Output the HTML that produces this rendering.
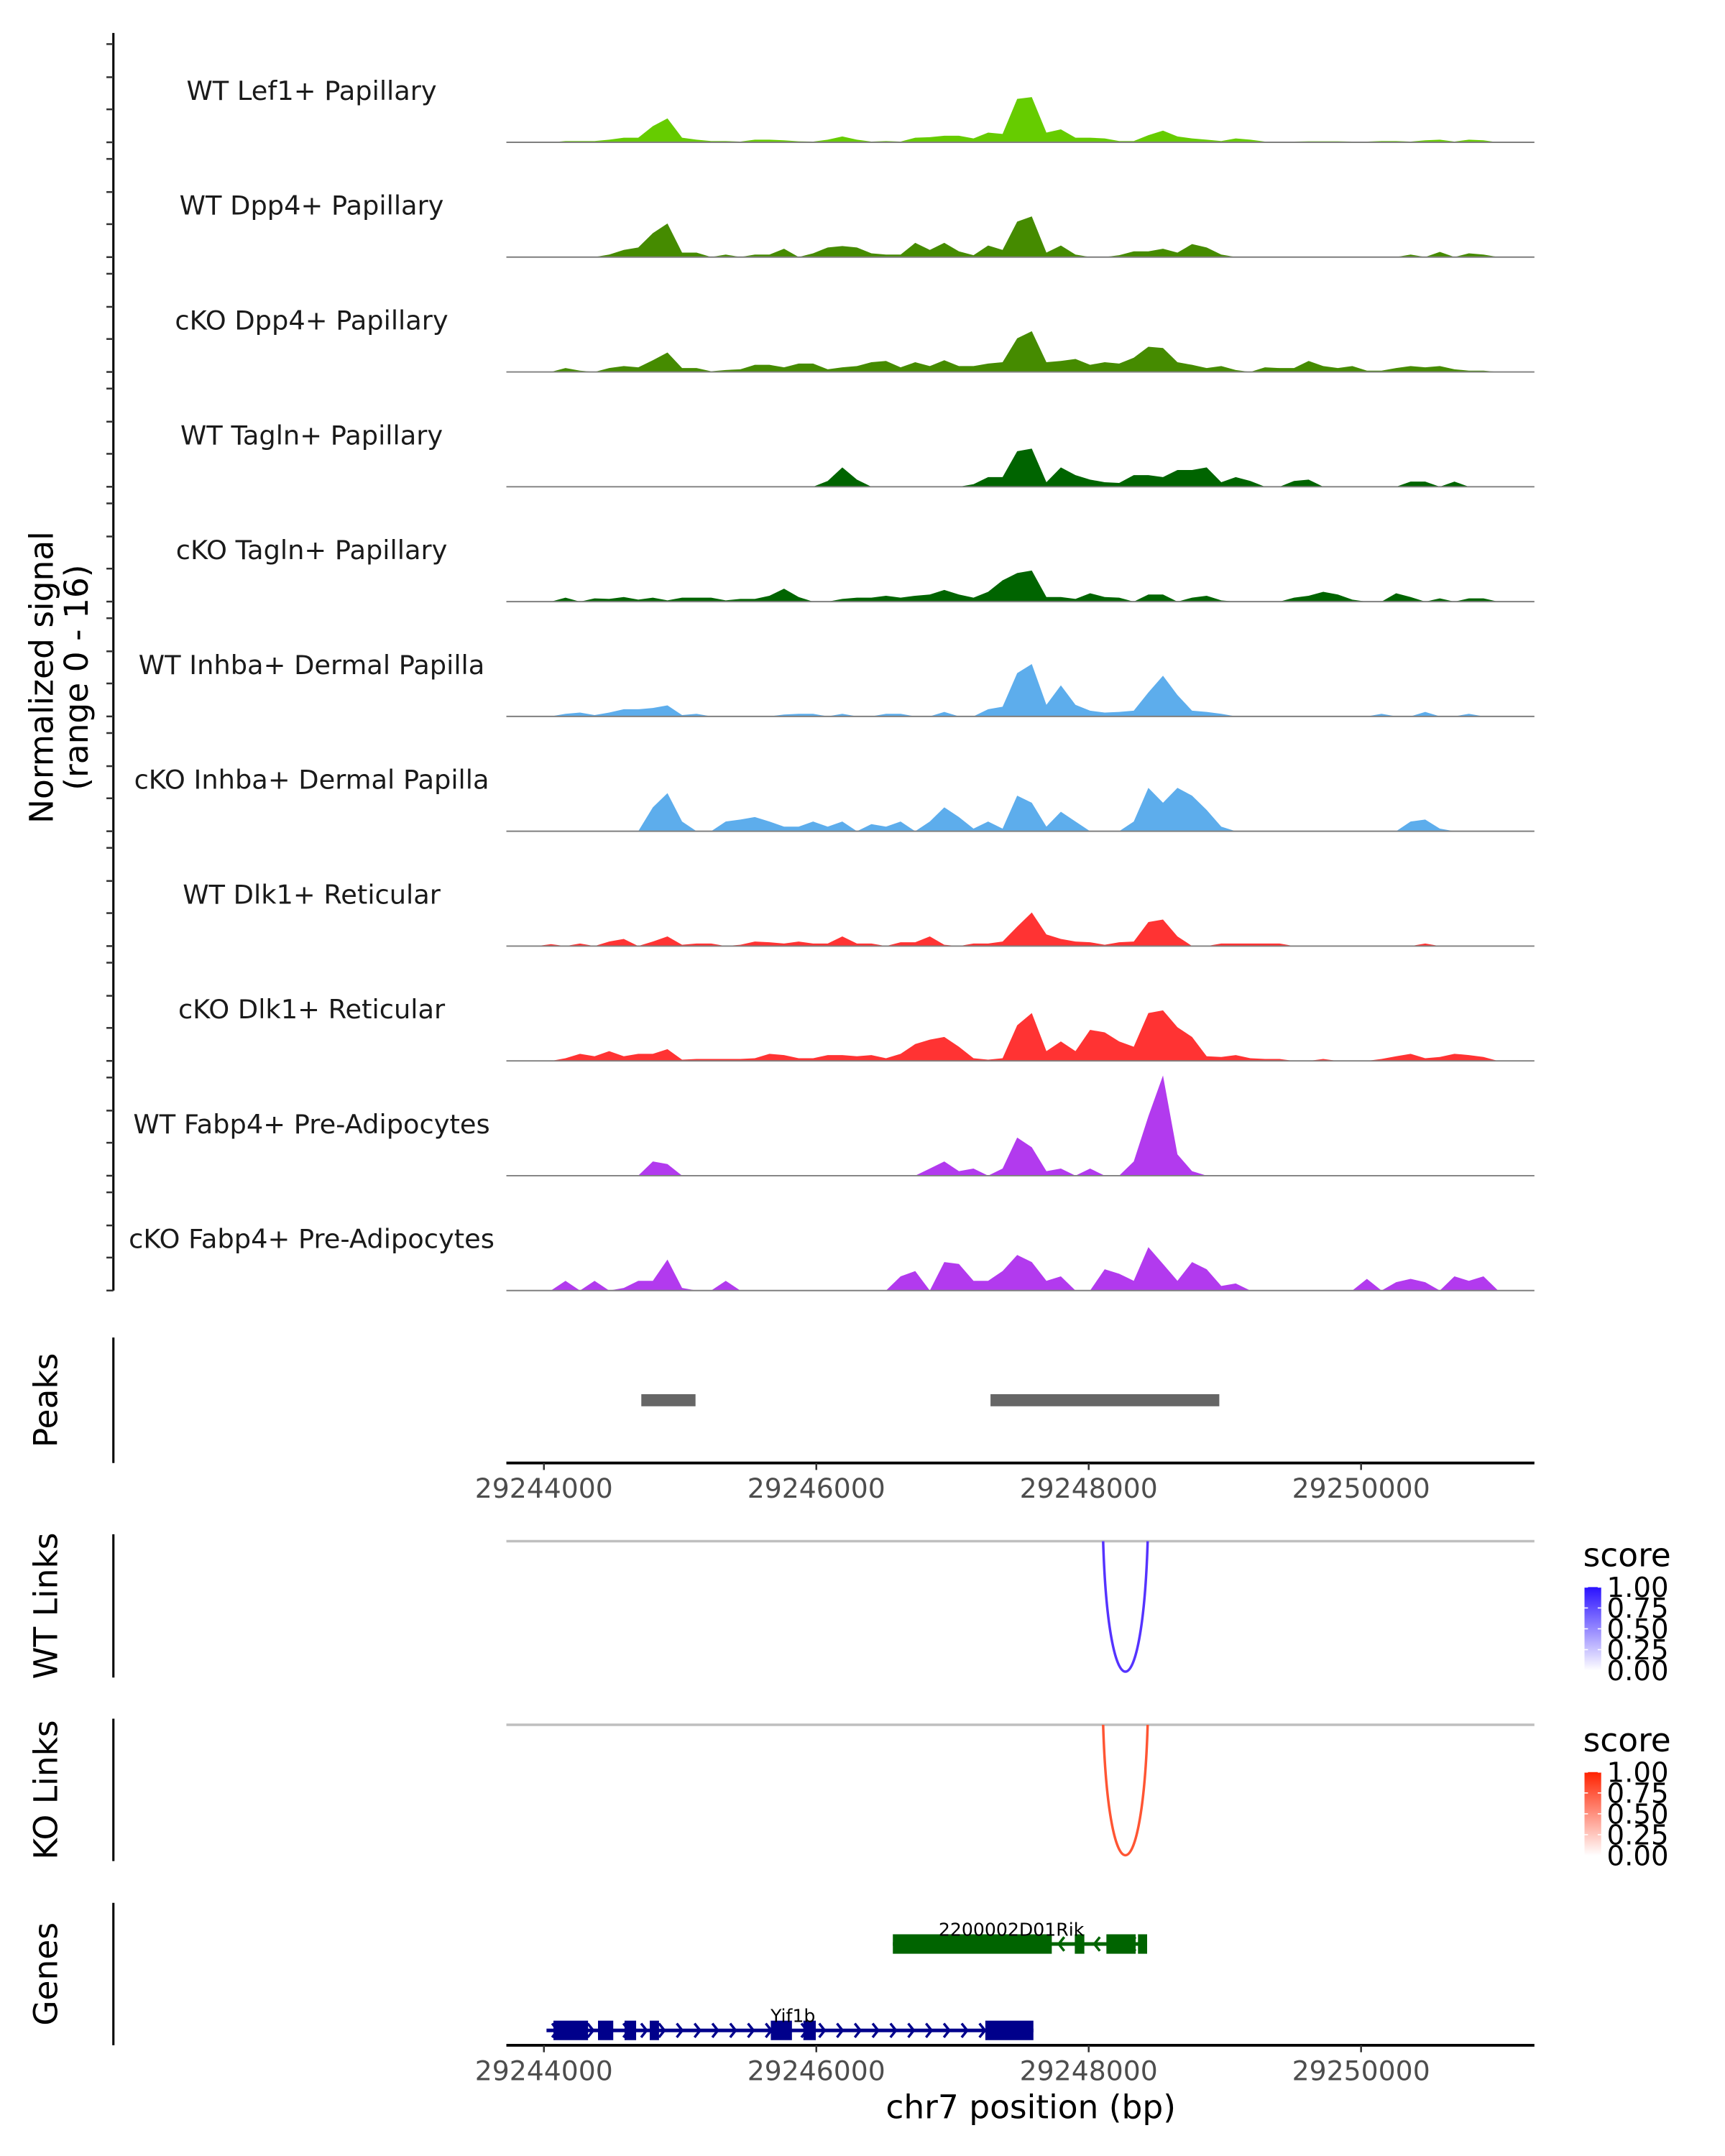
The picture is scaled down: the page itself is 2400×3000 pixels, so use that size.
<!DOCTYPE html>
<html><head><meta charset="utf-8"><style>
html,body{margin:0;padding:0;background:#fff;}
svg{display:block;font-family:"DejaVu Sans","Liberation Sans",sans-serif;}
</style></head><body>
<svg id="chart" xmlns="http://www.w3.org/2000/svg" width="2400" height="3000" viewBox="0 0 1240 1550">
<rect x="0" y="0" width="1240" height="1550" fill="#fff"/>
<g id="tracks"></g>
<g id="lower"></g>
</svg>
<script>
// ---- data ----
const regionStart = 29243837; // center of first bin (bp)
const binWidth = 107;         // bp per bin
const trackNames = ["WT Lef1+ Papillary","WT Dpp4+ Papillary","cKO Dpp4+ Papillary","WT Tagln+ Papillary","cKO Tagln+ Papillary","WT Inhba+ Dermal Papilla","cKO Inhba+ Dermal Papilla","WT Dlk1+ Reticular","cKO Dlk1+ Reticular","WT Fabp4+ Pre-Adipocytes","cKO Fabp4+ Pre-Adipocytes"];
const trackColors = ["#66cc00","#458b00","#458b00","#006400","#006400","#5dadec","#5dadec","#ff3333","#ff3333","#b23aee","#b23aee"];
const sigLef1WT = [0,0,0,0.2,0.2,0.2,0.4,0.7,0.7,2.5,3.7,0.7,0.4,0.2,0.2,0.1,0.4,0.4,0.3,0.15,0.1,0.4,0.9,0.4,0.1,0.2,0.1,0.7,0.8,1.0,1.0,0.6,1.5,1.3,6.7,7.0,1.5,2.0,0.7,0.7,0.6,0.2,0.2,1.1,1.8,0.9,0.6,0.4,0.2,0.6,0.4,0.1,0.1,0.1,0.15,0.15,0.15,0.1,0.1,0.2,0.2,0.1,0.3,0.4,0.1,0.4,0.3,0,0,0];
const sigDpp4WT = [0,0,0,0,0,0,0.4,1.1,1.5,3.7,5.2,0.7,0.7,0,0.4,0,0.4,0.4,1.3,0,0.6,1.5,1.7,1.5,0.6,0.4,0.4,2.2,1.1,2.2,0.9,0.3,1.8,1.1,5.5,6.3,0.7,1.8,0.4,0,0,0.3,0.9,0.9,1.3,0.7,2.0,1.5,0.4,0,0,0,0,0,0,0,0,0,0,0,0,0.4,0,0.8,0,0.6,0.4,0,0,0];
const sigDpp4KO = [0,0,0,0.6,0.2,0,0.6,0.9,0.7,1.8,3.0,0.6,0.6,0.1,0.3,0.4,1.1,1.1,0.7,1.3,1.3,0.4,0.7,0.9,1.5,1.7,0.7,1.5,0.9,1.8,0.9,0.9,1.3,1.5,5.2,6.3,1.5,1.7,2.0,1.1,1.5,1.3,2.2,3.9,3.7,1.5,1.1,0.6,0.9,0.3,0,0.7,0.6,0.6,1.7,0.9,0.6,0.9,0.2,0.2,0.6,0.9,0.7,0.9,0.4,0.2,0.2,0,0,0];
const sigTaglnWT = [0,0,0,0,0,0,0,0,0,0,0,0,0,0,0,0,0,0,0,0,0,0.9,3.0,1.1,0,0,0,0,0,0,0,0.4,1.5,1.5,5.5,5.9,0.7,3.0,1.8,1.1,0.7,0.6,1.8,1.8,1.5,2.6,2.6,3.0,0.7,1.5,0.9,0,0,0.9,1.1,0,0,0,0,0,0,0.8,0.8,0,0.8,0,0,0,0,0];
const sigTaglnKO = [0,0,0,0.6,0,0.5,0.4,0.7,0.3,0.6,0.2,0.6,0.6,0.6,0.2,0.4,0.4,0.9,2.0,0.7,0,0,0.4,0.6,0.6,0.9,0.6,0.9,1.1,1.8,1.1,0.6,1.5,3.3,4.4,4.8,0.7,0.7,0.4,1.3,0.7,0.6,0,1.1,1.1,0,0.6,0.9,0.2,0,0,0,0,0.6,0.9,1.5,1.1,0.3,0,0,1.3,0.7,0,0.5,0,0.5,0.5,0,0,0];
const sigInhbaWT = [0,0,0,0.4,0.6,0.2,0.6,1.1,1.1,1.3,1.7,0.2,0.4,0,0,0,0,0,0.3,0.4,0.4,0,0.4,0,0,0.4,0.4,0,0,0.7,0,0,1.1,1.5,6.7,8.1,1.8,4.8,1.8,0.9,0.6,0.7,0.9,3.7,6.3,3.3,0.9,0.7,0.4,0,0,0,0,0,0,0,0,0,0,0.4,0,0,0.7,0,0,0.4,0,0,0,0];
const sigInhbaKO = [0,0,0,0,0,0,0,0,0,3.7,5.9,1.5,0,0,1.5,1.8,2.2,1.5,0.7,0.7,1.5,0.7,1.5,0,1.1,0.7,1.5,0,1.5,3.7,2.2,0.4,1.5,0.4,5.5,4.4,0.7,3.0,1.5,0,0,0,1.5,6.7,4.4,6.7,5.5,3.3,0.7,0,0,0,0,0,0,0,0,0,0,0,0,1.5,1.8,0.4,0,0,0,0,0,0];
const sigDlk1WT = [0,0,0.3,0,0.4,0,0.7,1.1,0,0.7,1.5,0.2,0.4,0.4,0,0.2,0.7,0.6,0.4,0.7,0.4,0.4,1.5,0.4,0.4,0,0.6,0.6,1.5,0.2,0,0.4,0.4,0.7,3.0,5.2,1.8,1.1,0.7,0.6,0.2,0.6,0.7,3.7,4.1,1.5,0,0,0.4,0.4,0.4,0.4,0.4,0,0,0,0,0,0,0,0,0,0.4,0,0,0,0,0,0,0];
const sigDlk1KO = [0,0,0,0.4,1.1,0.7,1.5,0.7,1.1,1.1,1.8,0.2,0.3,0.3,0.3,0.3,0.4,1.1,0.9,0.4,0.4,0.9,0.9,0.7,0.9,0.4,1.1,2.6,3.3,3.7,2.2,0.4,0.2,0.4,5.5,7.4,1.5,3.0,1.5,4.8,4.4,3.0,2.2,7.4,7.8,5.2,3.7,0.7,0.6,0.9,0.4,0.3,0.3,0,0,0.3,0,0,0,0.3,0.7,1.1,0.4,0.6,1.1,0.9,0.6,0,0,0];
const sigFabp4WT = [0,0,0,0,0,0,0,0,0,2.2,1.8,0,0,0,0,0,0,0,0,0,0,0,0,0,0,0,0,0,1.1,2.2,0.7,1.1,0,1.1,5.9,4.4,0.7,1.1,0,1.1,0,0,2.2,9.2,15.5,3.3,0.7,0,0,0,0,0,0,0,0,0,0,0,0,0,0,0,0,0,0,0,0,0,0,0];
const sigFabp4KO = [0,0,0,1.5,0,1.5,0,0.4,1.5,1.5,4.8,0.4,0,0,1.5,0,0,0,0,0,0,0,0,0,0,0,2.2,3.0,0,4.4,4.1,1.5,1.5,3.0,5.5,4.4,1.5,2.2,0,0,3.3,2.6,1.5,6.7,4.1,1.5,4.4,3.3,0.7,1.1,0,0,0,0,0,0,0,0,1.8,0,1.3,1.8,1.3,0,2.2,1.5,2.2,0,0,0];
const signals = [sigLef1WT,sigDpp4WT,sigDpp4KO,sigTaglnWT,sigTaglnKO,sigInhbaWT,sigInhbaKO,sigDlk1WT,sigDlk1KO,sigFabp4WT,sigFabp4KO];
const peakStarts = [29244715, 29247279];
const peakEnds = [29245113, 29248959];
const tickValues = [29244000, 29246000, 29248000, 29250000];
const linkStart = [29248106];
const linkEnd = [29248433];
const legendTicks = ["1.00","0.75","0.50","0.25","0.00"];
const rikExonStarts = [29246562, 29247898, 29248130, 29248362];
const rikExonEnds = [29247729, 29247968, 29248345, 29248429];
const yifExonStarts = [29244070, 29244397, 29244592, 29244777, 29245666, 29245905, 29247241];
const yifExonEnds = [29244324, 29244509, 29244677, 29244845, 29245821, 29245996, 29247594];

// ---- scales ----
const NS = "http://www.w3.org/2000/svg";
const xs = bp => 391 + (bp - 29244000) * 0.0979;
const X0 = 364, X1 = 1103;
const pxPerUnit = 4.65;
const base0 = 102.3, trackStep = 82.55;
function el(tag, attrs, parent, txt){
  const e = document.createElementNS(NS, tag);
  for (const k in attrs) e.setAttribute(k, attrs[k]);
  if (txt !== undefined) e.textContent = txt;
  parent.appendChild(e);
  return e;
}
const tracks = document.getElementById('tracks');
const lower = document.getElementById('lower');

// left axis
const ax = el('line',{x1:81.5,y1:23.7,x2:81.5,y2:base0+trackStep*10,stroke:'#000','stroke-width':1.6},tracks);


const yt = el('text',{transform:'translate(41,487) rotate(-90)','text-anchor':'middle','font-size':23.5,fill:'#000'},tracks);


el('tspan',{x:0,dy:-3},yt,'Normalized signal');
el('tspan',{x:0,dy:25},yt,'(range 0 - 16)');

signals.forEach((sig, k) => {
  const b = base0 + trackStep * k;
  const g = el('g',{},tracks);
  
  
  [0, 23.7, 46.8, 70.6].forEach(off => {
    const t = el('line',{x1:76.5,x2:81.5,y1:b-off,y2:b-off,stroke:'#333','stroke-width':1.3},g);
    
    
  });
  const lab = el('text',{x:224,y:b-30.5,'text-anchor':'middle','font-size':19,fill:'#1a1a1a'},g,trackNames[k]);
  
  
  let d = '';
  for (let i = 0; i < sig.length; i++) {
    const x = xs(regionStart + binWidth * i);
    const y = b - sig[i] * pxPerUnit;
    d += (i === 0 ? 'M' + x.toFixed(1) + ',' + b + 'L' : 'L') + x.toFixed(1) + ',' + y.toFixed(1);
  }
  d += 'L' + xs(regionStart + binWidth * (sig.length - 1)).toFixed(1) + ',' + b + 'Z';
  const area = el('path',{d:d,fill:trackColors[k]},g);
  
  
  const bl = el('line',{x1:X0,x2:X1,y1:b,y2:b,stroke:'#7f7f7f','stroke-width':1},g);
  
  
});

// panel helper
function panelAxis(y1, y2, label, name){
  const l = el('line',{x1:81.5,x2:81.5,y1:y1,y2:y2,stroke:'#000','stroke-width':1.6},lower);
  
  
  const t = el('text',{transform:'translate(41,'+((y1+y2)/2)+') rotate(-90)','text-anchor':'middle','font-size':23.5,fill:'#000'},lower,label);
  
  
}
function xAxis(y){
  const g = el('g',{},lower);
  
  
  el('line',{x1:X0,x2:X1,y1:y,y2:y,stroke:'#000','stroke-width':2},g);
  tickValues.forEach(v => {
    const tk = el('line',{x1:xs(v),x2:xs(v),y1:y,y2:y+5,stroke:'#333','stroke-width':1.3},g);
    
    
    const tl = el('text',{x:xs(v),y:y+25,'text-anchor':'middle','font-size':19.5,fill:'#4d4d4d'},g,String(v));
    
    
  });
}

// Peaks
panelAxis(961.6, 1051.8, 'Peaks', 'peaks');
peakStarts.forEach((s, i) => {
  const r = el('rect',{x:xs(s),y:1002.3,width:xs(peakEnds[i])-xs(s),height:8.7,fill:'#666666'},lower);
  
  
});
xAxis(1051.8);

// Links
function linkPanel(y1, y2, lineY, bottom, color, name, label, gradId, topColor, legY){
  panelAxis(y1, y2, label, name);
  const gl = el('line',{x1:X0,x2:X1,y1:lineY,y2:lineY,stroke:'#bfbfbf','stroke-width':1.8},lower);
  
  
  linkStart.forEach((s, i) => {
    const a = xs(s), b2 = xs(linkEnd[i]);
    const depth = bottom - lineY;
    const arc = el('path',{d:'M'+a+','+lineY+' C'+(a+(b2-a)*0.12)+','+(lineY+depth*1.33)+' '+(b2-(b2-a)*0.12)+','+(lineY+depth*1.33)+' '+b2+','+lineY,fill:'none',stroke:color,'stroke-width':1.8},lower);
    
    
  });
  const defs = el('defs',{},lower);
  const lg = el('linearGradient',{id:gradId,x1:0,y1:1,x2:0,y2:0},defs);
  el('stop',{offset:0,'stop-color':'#ffffff'},lg);
  el('stop',{offset:1,'stop-color':topColor},lg);
  const lgG = el('g',{},lower);
  
  
  el('text',{x:1138,y:legY,'font-size':23.5,fill:'#000'},lgG,'score');
  const barTop = legY + 15, barH = 60;
  el('rect',{x:1139,y:barTop,width:12,height:barH,fill:'url(#'+gradId+')'},lgG);
  legendTicks.forEach((t, i) => {
    const ty = barTop + barH * i / (legendTicks.length - 1);
    el('line',{x1:1139,x2:1141.5,y1:ty,y2:ty,stroke:'#fff','stroke-width':0.8},lgG);
    el('line',{x1:1148.5,x2:1151,y1:ty,y2:ty,stroke:'#fff','stroke-width':0.8},lgG);
    el('text',{x:1155,y:ty+7,'font-size':20,fill:'#000'},lgG,t);
  });
}
linkPanel(1103, 1206, 1108, 1202, '#5533ff', 'wt-links', 'WT Links', 'gBlue', '#2a11ff', 1126);
linkPanel(1235.6, 1338, 1240, 1334, '#ff5533', 'ko-links', 'KO Links', 'gRed', '#ff2200', 1259);

// Genes
panelAxis(1368, 1470.4, 'Genes', 'genes');
function gene(name, starts, ends, y, color, dir, labelX){
  const g = el('g',{},lower);
  
  
  const s = xs(Math.min(...starts)), e = xs(Math.max(...ends));
  const x0 = dir > 0 ? xs(starts[0]) - 5 : s, x1 = e;
  el('line',{x1:x0,x2:x1,y1:y,y2:y,stroke:color,'stroke-width':2.6},g);
  for (let ax2 = x0 + 6; ax2 < x1 - 4; ax2 += 12.8) {
    const p = dir > 0 ? 'M'+(ax2-2)+','+(y-5)+' L'+(ax2+2)+','+y+' L'+(ax2-2)+','+(y+5)
                      : 'M'+(ax2+2)+','+(y-5)+' L'+(ax2-2)+','+y+' L'+(ax2+2)+','+(y+5);
    el('path',{d:p,fill:'none',stroke:color,'stroke-width':1.8},g);
  }
  starts.forEach((st, i) => {
    const ex = el('rect',{x:xs(st),y:y-7,width:xs(ends[i])-xs(st),height:14,fill:color},g);
    
    
  });
  const t = el('text',{x:labelX,y:y-6,'text-anchor':'middle','font-size':13,fill:'#000'},g,name);
  
  
}
gene('2200002D01Rik', rikExonStarts, rikExonEnds, 1397.6, '#006400', -1, 727);
gene('Yif1b', yifExonStarts, yifExonEnds, 1459.7, '#00008b', 1, 570);
xAxis(1470.4);
const xt = el('text',{x:741,y:1523,'text-anchor':'middle','font-size':23.5,fill:'#000'},lower,'chr7 position (bp)');


</script>
</body></html>
